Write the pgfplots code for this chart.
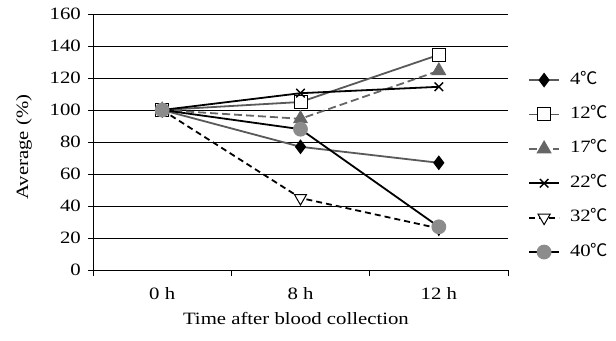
\documentclass[border=0pt]{standalone}
\usepackage{fontspec}
\setmainfont{Liberation Serif}[FakeStretch=1.2]
\newfontfamily\cjk{Noto Sans CJK SC}
\usepackage{pgfplots}
\pgfplotsset{compat=1.18}
\definecolor{lgray}{HTML}{595959}
\definecolor{mgray}{HTML}{666666}
\definecolor{cgray}{HTML}{8C8C8C}
\newcommand{\dc}{{\cjk ℃}}
\begin{document}
\begin{tikzpicture}
\begin{axis}[
  font=\fontsize{17.3bp}{20bp}\selectfont,
  scale only axis, width=415bp, height=256bp,
  xmin=-0.5, xmax=2.5, ymin=0, ymax=160,
  ytick={0,20,...,160},
  xtick={0,1,2}, xticklabels={0 h, 8 h, 12 h},
  minor xtick={-0.5,0.5,1.5,2.5},
  major x tick style={draw=none},
  axis x line*=bottom, axis y line*=left,
  axis line style={-, black, line width=0.8bp},
  ymajorgrids, grid style={black, line width=0.8bp},
  tick align=outside, major tick length=5bp, minor tick length=6bp,
  tick style={black, line width=0.8bp},
  /pgf/number format/assume math mode=true,
  yticklabel style={inner sep=0pt, xshift=-7bp},
  xticklabel style={inner sep=0pt, yshift=-12bp},
  ylabel={Average (\%)},
  xlabel={Time after blood collection},
  every axis y label/.style={at={(axis description cs:-0.166,0.48)}, rotate=90, anchor=center},
  every axis x label/.style={at={(axis description cs:0.489,-0.1875)}, anchor=center},
  legend style={at={(1.041,0.406)}, anchor=west, draw=none, fill=none,
    row sep=18.4bp, nodes={inner sep=0pt, text height=12bp, text depth=4bp},
    /tikz/every odd column/.append style={column sep=10bp}},
  legend cell align=left,
  legend image code/.code={\draw[mark repeat=2,mark phase=2,#1] plot coordinates {(0bp,0bp) (15bp,0bp) (30bp,0bp)};},
]
\addplot[color=lgray, line width=1.8bp, mark=diamond*, mark size=6bp, mark options={fill=black, draw=black, solid}] coordinates {(0,100) (1,77) (2,67)};
\addlegendentry{4\dc}
\addplot[color=lgray, line width=1.8bp, mark=square*, mark size=6.5bp, mark options={fill=white, draw=black, line width=1bp, solid}] coordinates {(0,100) (1,105) (2,134.5)};
\addlegendentry{12\dc}
\addplot[color=mgray, line width=1.8bp, dash pattern=on 8bp off 4bp, mark=triangle*, mark size=7bp, mark options={fill=mgray, draw=mgray, solid}] coordinates {(0,100) (1,94.5) (2,124.5)};
\addlegendentry{17\dc}
\addplot[color=black, line width=1.8bp, mark=x, mark size=6bp, mark options={line width=1.4bp, solid}] coordinates {(0,100) (1,110.5) (2,114.5)};
\addlegendentry{22\dc}
\addplot[color=black, line width=1.8bp, dash pattern=on 6bp off 4bp, mark=triangle*, mark size=7bp, mark options={fill=white, draw=black, line width=1bp, rotate=180, solid}] coordinates {(0,100) (1,45) (2,26)};
\addlegendentry{32\dc}
\addplot[color=black, line width=1.8bp, mark=*, mark size=6.5bp, mark options={fill=cgray, draw=cgray, solid}] coordinates {(0,100) (1,88) (2,27)};
\addlegendentry{40\dc}
\end{axis}
\pgfresetboundingbox
\path[use as bounding box] ([xshift=-93bp,yshift=-71bp]current axis.south west) rectangle ([xshift=108bp,yshift=14bp]current axis.north east);
\end{tikzpicture}
\end{document}
